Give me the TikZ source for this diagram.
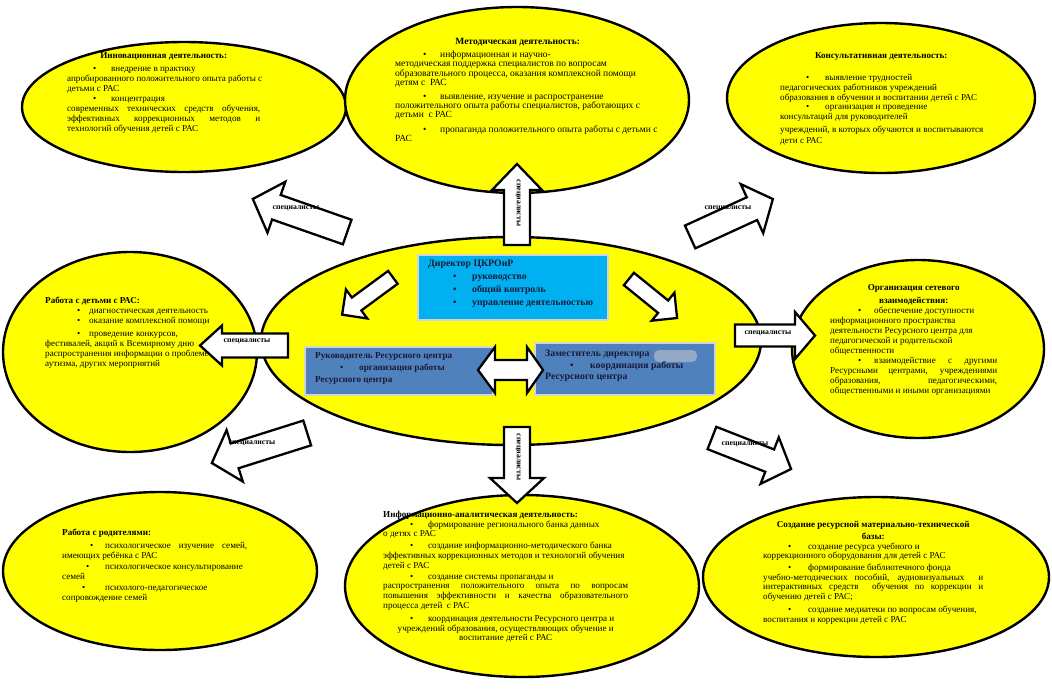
\documentclass[tikz,border=0pt]{standalone}
\usepackage{fontspec}
\setmainfont{Liberation Serif}
\usetikzlibrary{shapes.geometric}
\definecolor{yel}{HTML}{FFFF00}
\definecolor{cyanbox}{HTML}{00B0F0}
\definecolor{bluebox}{HTML}{4F81BD}
\definecolor{boxtext}{HTML}{1A1A38}
\definecolor{blobcol}{HTML}{93A9C6}
\definecolor{boxedge}{HTML}{D4D4D4}
\newcommand\itm[3]{\hspace*{#1}\makebox[#2][l]{•}#3}
\newcommand\J[1]{\makebox[\bw][s]{#1}}
\newcommand\C[1]{\makebox[\bw][c]{#1}}
\def\bw{100pt}
\newcommand\blockarrow[8]{% name cx cy angle len s h hl
  \begin{scope}[shift={(#2,#3)},rotate=#4]
    \draw[blockarr] ({-#5/2},{-#6}) -- ({#5/2-#8},{-#6}) -- ({#5/2-#8},{-#7}) -- ({#5/2},0)
      -- ({#5/2-#8},{#7}) -- ({#5/2-#8},{#6}) -- ({-#5/2},{#6}) -- cycle;
    \coordinate (#1) at (0,0);
  \end{scope}}
\tikzset{
  ell/.style={ellipse, draw=black, fill=yel, line width=2.4pt, inner sep=0pt},
  blockarr/.style={draw=black, fill=white, line width=2.3pt, line join=miter},
  bw/.code={\def\bw{#1}},
  txt/.style={anchor=north west, inner sep=0pt, align=left},
  boxtxt/.style={anchor=north west, inner sep=0pt, align=left, text=boxtext},
  lab/.style={inner sep=0pt, font=\fontsize{7.8}{8}\selectfont\bfseries},
  cbox/.style={draw=boxedge, line width=1.6pt, fill=cyanbox},
  bbox/.style={draw=boxedge, line width=1.6pt, fill=bluebox}
}
\begin{document}
\begin{tikzpicture}[x=1pt,y=-1pt]
\useasboundingbox (0,0) rectangle (1052,689);
\fill[white] (0,0) rectangle (1052,689);

% ellipses
\node[ell, minimum width=324pt, minimum height=130pt] (tl) at (184,107) {};
\node[ell, minimum width=344pt, minimum height=186pt] (tc) at (517,100) {};
\node[ell, minimum width=308pt, minimum height=150pt] (tr) at (881,98) {};
\node[ell, minimum width=254pt, minimum height=200pt] (ml) at (130,352) {};
\node[ell, minimum width=500pt, minimum height=208pt] (cc) at (511,341) {};
\node[ell, minimum width=252pt, minimum height=178pt] (mr) at (918,349) {};
\node[ell, minimum width=314pt, minimum height=158pt] (bl) at (160,571) {};
\node[ell, minimum width=354pt, minimum height=182pt] (bc) at (522,586) {};
\node[ell, minimum width=346pt, minimum height=160pt] (br) at (876,577) {};

% boxes
\node[cbox, minimum width=190pt, minimum height=65pt] (dir) at (513,287.5) {};
\node[bbox, minimum width=188pt, minimum height=48pt] (lbox) at (399,371) {};
\node[bbox, minimum width=180pt, minimum height=52pt] (rbox) at (625,369) {};
\fill[blobcol, rounded corners=5pt] (654,350) rectangle (697,362);

% block arrows
\blockarrow{atl}{300}{215.5}{160.7}{100}{13}{27}{25}
\blockarrow{aup}{517}{204.5}{90}{81}{13}{25}{26}
\blockarrow{atr}{731.5}{218}{24.6}{91}{12.5}{27}{23}
\blockarrow{aml}{244}{345.5}{180}{88}{12}{20}{22}
\blockarrow{amr}{775}{335.5}{0}{80}{11}{23.5}{20}
\blockarrow{abl}{259.5}{448}{197.5}{100}{13}{27}{24}
\blockarrow{adn}{517}{465}{-90}{76}{13}{27}{25}
\blockarrow{abr}{751.5}{453.5}{-21.4}{85}{12}{25}{23}
\blockarrow{acl}{367.5}{296}{216.3}{63}{8}{18}{18}
\blockarrow{acr}{653}{298.5}{-39}{62}{8}{18}{18}
% double arrow between the two boxes
\coordinate (dl) at (478,370);
\coordinate (dr) at (543,370);
\draw[blockarr] (dl) -- (495,347) -- (495,360) -- (527,360) -- (527,347) -- (dr)
  -- (527,393) -- (527,380) -- (495,380) -- (495,393) -- cycle;

% arrow labels
\node[lab] (ltl) at (296,208) {специалисты};
\node[lab] (ltr) at (728,208) {специалисты};
\node[lab] (lml) at (247,341) {специалисты};
\node[lab] (lmr) at (768,333) {специалисты};
\node[lab] (lbl) at (252,443) {специалисты};
\node[lab] (lbr) at (745,444) {специалисты};
\node[lab, rotate=-90] (lup) at (518,203) {специалисты};
\node[lab, rotate=-90] (ldn) at (518,457) {специалисты};

% box texts
\node[boxtxt, font=\fontsize{9.8}{13}\selectfont\bfseries] (dirt) at (428,260) {Директор ЦКРОиР\\
\itm{25pt}{19pt}{руководство}\\
\itm{25pt}{19pt}{общий контроль}\\
\itm{25pt}{19pt}{управление деятельностью}};
\node[boxtxt, font=\fontsize{9.2}{12}\selectfont\bfseries] (lboxt) at (315,352) {Руководитель Ресурсного центра\\
\itm{25pt}{19pt}{организация работы}\\
Ресурсного центра};
\node[boxtxt, font=\fontsize{9.8}{11.5}\selectfont\bfseries] (rboxt) at (545,350) {Заместитель директора\\
\itm{25pt}{20pt}{координация работы}\\
Ресурсного центра};

% ellipse texts
\node[txt, bw=193pt, font=\fontsize{9.1}{10}\selectfont] (tlt) at (67,52) {\C{\textbf{Инновационная деятельность:}}\\[3pt]
\itm{26pt}{18pt}{внедрение в практику}\\
апробированного положительного опыта работы с\\
детьми с РАС\\
\itm{26pt}{18pt}{концентрация}\\
\J{современных технических средств обучения,}\\
\J{эффективных коррекционных методов и}\\
технологий обучения детей с РАС};

\node[txt, bw=245pt, font=\fontsize{9.5}{9.2}\selectfont] (tct) at (395,38) {\C{\textbf{Методическая деятельность:}}\\[4pt]
\itm{28pt}{17pt}{информационная и научно-}\\
методическая поддержка специалистов по вопросам\\
образовательного процесса, оказания комплексной помощи\\
детям с\ \ РАС\\[5pt]
\itm{28pt}{17pt}{выявление, изучение и распространение}\\
положительного опыта работы специалистов, работающих с\\
детьми\ \ с РАС\\[5pt]
\itm{28pt}{17pt}{пропаганда положительного опыта работы с детьми с}\\
РАС};

\node[txt, bw=202pt, font=\fontsize{9.1}{9.7}\selectfont] (trt) at (780,52) {\C{\textbf{Консультативная деятельность:}}\\[13pt]
\itm{26pt}{19pt}{выявление трудностей}\\
педагогических работников учреждений\\
образования в обучении и воспитании детей с РАС\\
\itm{26pt}{19pt}{организация и проведение}\\
консультаций для руководителей\\[3pt]
учреждений, в которых обучаются и воспитываются\\[1pt]
дети с РАС};

\node[txt, bw=170pt, font=\fontsize{9.1}{10}\selectfont] (mlt) at (45,297) {\textbf{Работа с детьми с РАС:}\\
\itm{32pt}{12pt}{диагностическая деятельность}\\
\itm{32pt}{12pt}{оказание комплексной помощи}\\[3pt]
\itm{32pt}{12pt}{проведение конкурсов,}\\
фестивалей, акций к Всемирному дню\\
распространения информации о проблеме\\
аутизма, других мероприятий};

\node[txt, bw=167pt, font=\fontsize{9.1}{10}\selectfont] (mrt) at (830,284) {\C{\textbf{Организация сетевого}}\\[3pt]
\C{\textbf{взаимодействия:}}\\
\itm{28pt}{16pt}{обеспечение доступности}\\
информационного пространства\\
деятельности Ресурсного центра для\\
педагогической и родительской\\
общественности\\
\J{\hspace*{28pt}\makebox[16pt][l]{•}взаимодействие с другими}\\
\J{Ресурсными центрами, учреждениями}\\
\J{образования, педагогическими,}\\
общественными и иными организациями};

\node[txt, bw=185pt, font=\fontsize{9.1}{10.5}\selectfont] (blt) at (62,529) {\textbf{Работа с родителями:}\\[2pt]
\J{\hspace*{28pt}\makebox[15pt][l]{•}психологическое изучение семей,}\\
имеющих ребёнка с РАС\\
\itm{24pt}{19pt}{психологическое консультирование}\\
семей\\
\itm{20pt}{23pt}{психолого-педагогическое}\\
сопровождение семей};

\node[txt, bw=245pt, font=\fontsize{9.1}{9.7}\selectfont] (bct) at (383,511) {\textbf{Информационно-аналитическая деятельность:}\\
\itm{27pt}{18pt}{формирование регионального банка данных}\\
о детях с РАС\\[2pt]
\itm{27pt}{18pt}{создание информационно-методического банка}\\
эффективных коррекционных методов и технологий обучения\\
детей с РАС\\[1.5pt]
\itm{27pt}{18pt}{создание системы пропаганды и}\\
\J{распространения положительного опыта по вопросам}\\
\J{повышения эффективности и качества образовательного}\\
процесса детей\ \ с РАС\\[3.5pt]
\itm{27pt}{18pt}{координация деятельности Ресурсного центра и}\\
\C{учреждений образования, осуществляющих обучение и}\\
\C{воспитание детей с РАС}};

\node[txt, bw=220pt, font=\fontsize{9.1}{9.7}\selectfont] (brt) at (763,521) {\C{\textbf{Создание ресурсной материально-технической}}\\[2.3pt]
\C{\textbf{базы:}}\\
\itm{25pt}{20pt}{создание ресурса учебного и}\\
коррекционного оборудования для детей с РАС\\[2pt]
\itm{25pt}{20pt}{формирование библиотечного фонда}\\
\J{учебно-методических пособий, аудиовизуальных\ \ и}\\
\J{интерактивных средств\ \ обучения по коррекции и}\\
обучению детей с РАС;\\[3.5pt]
\itm{25pt}{20pt}{создание медиатеки по вопросам обучения,}\\
воспитания и коррекции детей с РАС};
\end{tikzpicture}
\end{document}
